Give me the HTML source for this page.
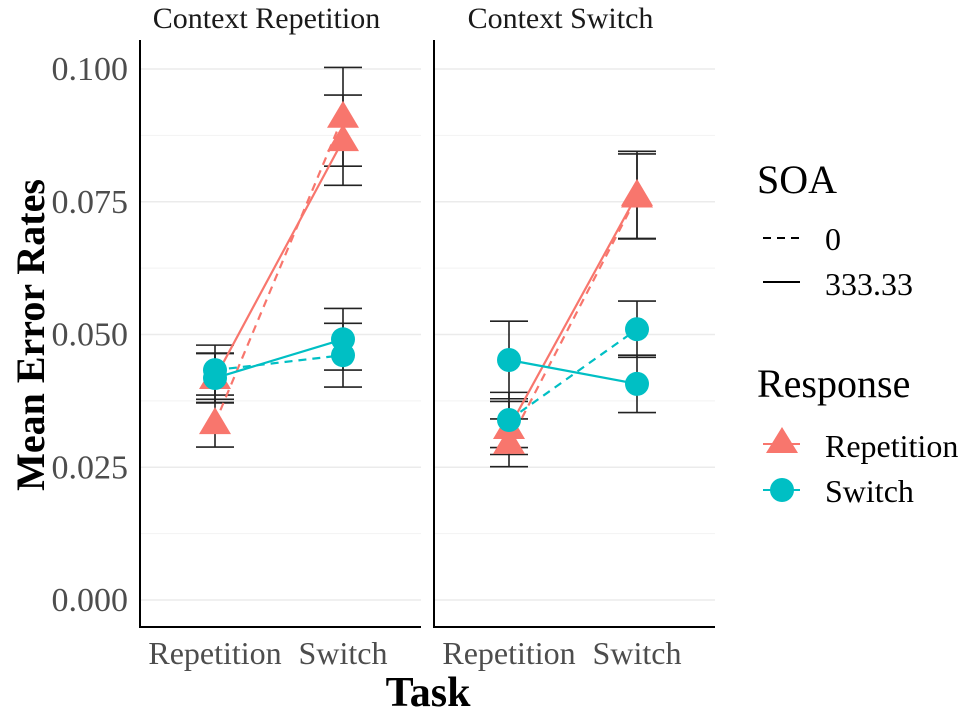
<!DOCTYPE html>
<html><head><meta charset="utf-8"><style>
body{margin:0;background:#fff}
svg{display:block;font-family:"Liberation Serif",serif}
</style></head><body>
<svg id="c" width="968" height="711" viewBox="0 0 968 711"></svg>
<script>
const panels=["Context Repetition","Context Switch"];
const tasks=["Repetition","Switch"];
const yTicks=[0,0.025,0.05,0.075,0.1];
const yTickLabels=["0.000","0.025","0.050","0.075","0.100"];
// series: [panel][task] values
const repSolid=[[0.0418,0.0866],[0.0324,0.0763]];
const repSolidSe=[[0.0046,0.0085],[0.0050,0.0082]];
const repDashed=[[0.0333,0.0910],[0.0296,0.0760]];
const repDashedSe=[[0.0045,0.0093],[0.0045,0.0080]];
const swSolid=[[0.0418,0.0491],[0.0452,0.0407]];
const swSolidSe=[[0.0047,0.0058],[0.0073,0.0054]];
const swDashed=[[0.0433,0.0461],[0.0339,0.0510]];
const swDashedSe=[[0.0047,0.0060],[0.0052,0.0053]];

const NS="http://www.w3.org/2000/svg";
const svg=document.getElementById('c');
function mk(t,a,p){const e=document.createElementNS(NS,t);for(const k in a)e.setAttribute(k,a[k]);(p||svg).appendChild(e);return e;}
const y=v=>600-v*5310;
const pLeft=[140,434],pW=281;
const x=(p,i)=>pLeft[p]+75+i*128;
const RED="#f8766d",CY="#00bfc4";

for(let p=0;p<2;p++){
  const g=mk('g',{});
  
  
  for(let i=0;i<yTicks.length;i++){
    const l=mk('line',{x1:pLeft[p],x2:pLeft[p]+pW,y1:y(yTicks[i]),y2:y(yTicks[i]),stroke:'#ebebeb','stroke-width':1.6},g);
    
    
    if(i<yTicks.length-1){
      const m=mk('line',{x1:pLeft[p],x2:pLeft[p]+pW,y1:y((yTicks[i]+yTicks[i+1])/2),y2:y((yTicks[i]+yTicks[i+1])/2),stroke:'#f2f2f2','stroke-width':1},g);
      
      
    }
  }
  const ax=mk('line',{x1:pLeft[p],x2:pLeft[p],y1:40,y2:628,stroke:'#000','stroke-width':2},g);
  
  
  const bx=mk('line',{x1:pLeft[p]-1,x2:pLeft[p]+pW,y1:627,y2:627,stroke:'#000','stroke-width':2},g);
  
  
  const st=mk('text',{x:pLeft[p]+pW/2-14,y:28,'font-size':30,'text-anchor':'middle',fill:'#1a1a1a'},g);
  st.textContent=panels[p];
  
  
  for(let i=0;i<2;i++){
    const t=mk('text',{x:x(p,i),y:664,'font-size':32,'text-anchor':'middle',fill:'#4d4d4d'},g);
    t.textContent=tasks[i];
    
    
  }
  const series=[[repDashed,repDashedSe,RED,true,'tri'],[repSolid,repSolidSe,RED,false,'tri'],[swDashed,swDashedSe,CY,true,'cir'],[swSolid,swSolidSe,CY,false,'cir']];
  for(const s of series){for(let i=0;i<2;i++){
    const v=s[0][p][i],se=s[1][p][i],cx=x(p,i);
    const e=mk('path',{d:`M${cx-19},${y(v+se)}H${cx+19}M${cx},${y(v+se)}V${y(v-se)}M${cx-19},${y(v-se)}H${cx+19}`,stroke:'#222','stroke-width':1.6,fill:'none'},g);
    
    
  }}
  for(const s of series){
    const l=mk('line',{x1:x(p,0),y1:y(s[0][p][0]),x2:x(p,1),y2:y(s[0][p][1]),stroke:s[2],'stroke-width':2.2,'stroke-dasharray':s[3]?'8 6':'none'},g);
    
    
  }
  for(const s of series){for(let i=0;i<2;i++){
    const cx=x(p,i),cy=y(s[0][p][i]);let m;
    if(s[4]=='tri') m=mk('path',{d:`M${cx},${cy-16}L${cx+16},${cy+11}L${cx-16},${cy+11}Z`,fill:s[2]},g);
    else m=mk('circle',{cx:cx,cy:cy,r:12,fill:s[2]},g);
    
    
  }}
}
for(let i=0;i<yTicks.length;i++){
  const t=mk('text',{x:128,y:y(yTicks[i])+11,'font-size':34,'text-anchor':'end',fill:'#4d4d4d'});
  t.textContent=yTickLabels[i];
  
  
}
const yt=mk('text',{x:0,y:0,'font-size':40,'font-weight':'bold','text-anchor':'middle',transform:'translate(44,335) rotate(-90)'});
yt.textContent='Mean Error Rates';


const xt=mk('text',{x:428,y:706,'font-size':42,'font-weight':'bold','text-anchor':'middle'});
xt.textContent='Task';


const lg=mk('g',{});


function txt(s,xx,yy,fs,name){const t=mk('text',{x:xx,y:yy,'font-size':fs,fill:'#000'},lg);t.textContent=s;return t;}
txt('SOA',757,193,40,'legend-title-soa');
const d1=mk('line',{x1:763,x2:800,y1:238,y2:238,stroke:'#000','stroke-width':2,'stroke-dasharray':'8 6'},lg);


txt('0',825,250,32,'legend-label-0');
const d2=mk('line',{x1:763,x2:800,y1:282,y2:282,stroke:'#000','stroke-width':2},lg);


txt('333.33',825,295,32,'legend-label-333');
txt('Response',757,397,40,'legend-title-response');
const l1=mk('line',{x1:763,x2:800,y1:444,y2:444,stroke:RED,'stroke-width':2},lg);


const tr=mk('path',{d:'M782,427L798,453L766,453Z',fill:RED},lg);


txt('Repetition',825,457,32,'legend-label-repetition');
const l2=mk('line',{x1:763,x2:800,y1:490,y2:490,stroke:CY,'stroke-width':2},lg);


const ci=mk('circle',{cx:782,cy:490,r:12,fill:CY},lg);


txt('Switch',825,502,32,'legend-label-switch');
</script>
</body></html>
